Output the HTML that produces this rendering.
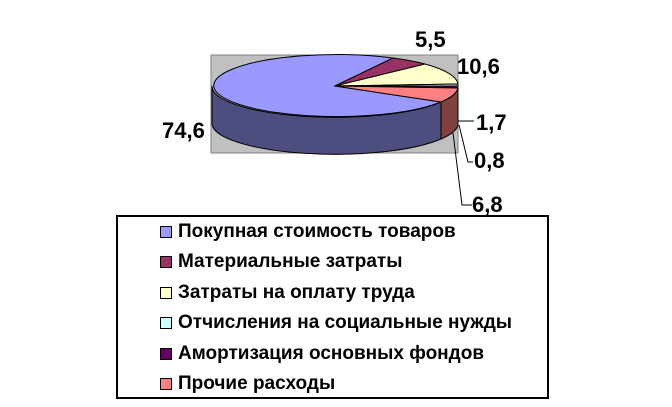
<!DOCTYPE html>
<html><head><meta charset="utf-8"><style>
body{margin:0;background:#fff;width:672px;height:407px;overflow:hidden;font-family:"Liberation Sans",sans-serif}
.lab{position:absolute;font-weight:bold;font-size:22px;color:#000;line-height:24px}
.leg{position:absolute;left:116px;top:215px;width:433px;height:184px;border:2px solid #000;box-sizing:border-box}
.row{position:absolute;left:160px;font-size:19px;font-weight:bold;height:22px;line-height:22px}
.sw{position:absolute;left:0;top:5px;width:10px;height:10px;border:1px solid #000}
.row span{position:absolute;left:18px;white-space:nowrap}
</style></head><body>
<svg width="672" height="407" style="position:absolute;left:0;top:0">
<rect x="211" y="55" width="247" height="98" fill="#c0c0c0" stroke="#808080"/>
<path d="M212,86 A123,31 0 0 0 441,102 L441,139 A123,31 0 0 1 212,123 Z" fill="#4d4d80" stroke="#000" stroke-width="1"/>
<path d="M441,102 A123,31 0 0 0 458,88 L458,125 A123,31 0 0 1 441,139 Z" fill="#804040" stroke="#000" stroke-width="1"/>
<path d="M335,86 L393,58 A123,31 0 1 0 441,102 Z" fill="#9999ff" stroke="#000" stroke-width="1"/>
<path d="M335,86 L393,58 A123,31 0 0 1 425,64 Z" fill="#993366" stroke="#000" stroke-width="1"/>
<path d="M335,86 L425,64 A123,31 0 0 1 458,84 Z" fill="#ffffcc" stroke="#000" stroke-width="1"/>
<path d="M335,86 L458,84 L458,86 Z" fill="#ccffff" stroke="#000" stroke-width="1"/>
<path d="M335,86 L458,86 L458,88 Z" fill="#660066" stroke="#000" stroke-width="1"/>
<path d="M335,86 L458,88 A123,31 0 0 1 441,102 Z" fill="#ff8080" stroke="#000" stroke-width="1"/>
<polyline points="458,121 474,121" fill="none" stroke="#000"/>
<polyline points="459,125 468,162 473,162" fill="none" stroke="#000"/>
<polyline points="453,133 462,205 472,205" fill="none" stroke="#000"/>
</svg>
<div class="lab" style="left:162px;top:119px">74,6</div>
<div class="lab" style="left:415px;top:28px">5,5</div>
<div class="lab" style="left:457px;top:55px">10,6</div>
<div class="lab" style="left:476px;top:111px">1,7</div>
<div class="lab" style="left:474px;top:149px">0,8</div>
<div class="lab" style="left:472px;top:193px">6,8</div>
<div class="leg"></div>
<div class="row" style="top:221px"><div class="sw" style="background:#9999ff"></div><span>Покупная стоимость товаров</span></div>
<div class="row" style="top:251px"><div class="sw" style="background:#993366"></div><span>Материальные затраты</span></div>
<div class="row" style="top:282px"><div class="sw" style="background:#ffffcc"></div><span>Затраты на оплату труда</span></div>
<div class="row" style="top:312px"><div class="sw" style="background:#ccffff"></div><span>Отчисления на социальные нужды</span></div>
<div class="row" style="top:343px"><div class="sw" style="background:#660066"></div><span>Амортизация основных фондов</span></div>
<div class="row" style="top:373px"><div class="sw" style="background:#ff8080"></div><span>Прочие расходы</span></div>
</body></html>
